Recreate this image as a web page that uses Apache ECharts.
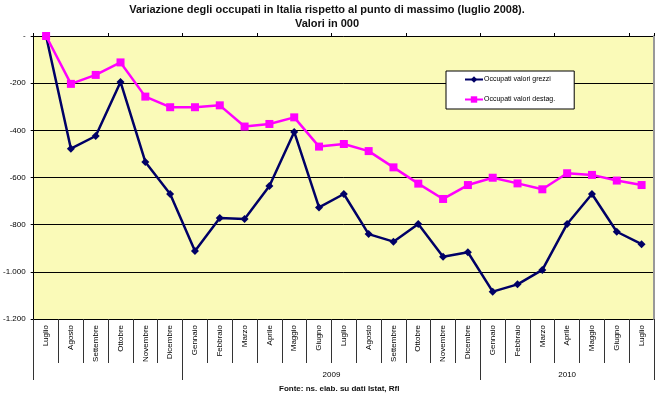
<!DOCTYPE html>
<html>
<head>
<meta charset="utf-8">
<script src="https://cdn.jsdelivr.net/npm/echarts@6/dist/echarts.min.js"></script>
<style>
  html, body { margin: 0; padding: 0; background: #fff; }
  #chart { width: 657px; height: 399px; }
</style>
</head>
<body>
<div id="chart"></div>
<script>
const months = [
  'Luglio', 'Agosto', 'Settembre', 'Ottobre', 'Novembre', 'Dicembre',
  'Gennaio', 'Febbraio', 'Marzo', 'Aprile', 'Maggio', 'Giugno',
  'Luglio', 'Agosto', 'Settembre', 'Ottobre', 'Novembre', 'Dicembre',
  'Gennaio', 'Febbraio', 'Marzo', 'Aprile', 'Maggio', 'Giugno', 'Luglio'
]
// year groups: label, first month index, last month index + 1
const years = [['', 0, 6], ['2009', 6, 18], ['2010', 18, 25]]

const grezzi = [
  0, -478, -424, -195, -534, -670,
  -912, -772, -776, -636, -407, -727,
  -670, -840, -872, -797, -936, -917,
  -1084, -1053, -992, -797, -670, -830, -883
]
const destag = [
  0, -203, -165, -112, -257, -302,
  -302, -294, -384, -373, -345, -469,
  -458, -488, -557, -626, -691, -632,
  -601, -625, -650, -582, -589, -613, -632
]
const seriesNames = ['Occupati valori grezzi', 'Occupati valori destag.']

const yearBounds = [...new Set(years.flatMap((y) => [y[1], y[2]]))]
const yearCenters = years.filter((y) => y[0]).map((y) => (y[1] + y[2]) / 2)
const yearLabel = (v) => (years.find((y) => (y[1] + y[2]) / 2 === v) || [''])[0]

const fmtY = (v) => v === 0 ? '-' : '-' + String(Math.abs(v)).replace(/\B(?=(\d{3})+(?!\d))/g, '.')

const font = 'Liberation Sans, Arial, sans-serif'
const chart = echarts.init(document.getElementById('chart'))
chart.setOption({
  animation: false,
  textStyle: { fontFamily: font },
  title: {
    text: 'Variazione degli occupati in Italia rispetto al punto di massimo (luglio 2008).\nValori in 000',
    left: 327,
    top: 3,
    padding: 0,
    textAlign: 'center',
    textStyle: { fontSize: 11, fontWeight: 'bold', color: '#111', lineHeight: 14, fontFamily: font }
  },
  legend: {
    orient: 'vertical',
    left: 446,
    top: 71,
    data: seriesNames,
    backgroundColor: '#fff',
    borderColor: '#000',
    borderWidth: 1,
    borderRadius: 0,
    padding: [5, 19, 6, 18],
    itemWidth: 18,
    itemHeight: 8,
    itemGap: 13,
    textStyle: { fontSize: 7, color: '#000', fontFamily: font, padding: [0, 0, 0, -4] }
  },
  graphic: [{
    type: 'text',
    left: 279,
    top: 385,
    style: { text: 'Fonte: ns. elab. su dati Istat, Rfl', font: 'bold 8px ' + font, fill: '#111' }
  }],
  grid: {
    left: 30,
    right: 3,
    top: 36,
    bottom: 80,
    show: true,
    backgroundColor: '#FAFAB8',
    borderWidth: 0
  },
  xAxis: [
    {
      type: 'category',
      data: months,
      position: 'top',
      axisLine: { show: false, onZero: false },
      axisTick: { show: true, length: 3, lineStyle: { color: '#000' } },
      axisLabel: { show: false }
    },
    {
      type: 'category',
      data: months,
      position: 'bottom',
      axisLine: { show: false, onZero: false },
      axisTick: { show: true, length: 44, lineStyle: { color: '#333' } },
      axisLabel: { rotate: 90, fontSize: 8, color: '#000', margin: 6, fontFamily: font }
    },
    {
      type: 'value',
      min: 0,
      max: months.length,
      position: 'bottom',
      axisLine: { show: false, onZero: false },
      splitLine: { show: false },
      axisTick: { show: true, length: 61, customValues: yearBounds, lineStyle: { color: '#333' } },
      axisLabel: { customValues: yearCenters, formatter: yearLabel, fontSize: 8, color: '#000', margin: 52, fontFamily: font }
    }
  ],
  yAxis: [
    {
      type: 'value',
      min: -1200,
      max: 0,
      interval: 200,
      axisLine: { show: true, lineStyle: { color: '#000' } },
      axisTick: { show: true, length: 3, lineStyle: { color: '#000' } },
      axisLabel: { formatter: fmtY, fontSize: 8, color: '#000', margin: 8, fontFamily: font },
      splitLine: { lineStyle: { color: '#000', width: 1 } }
    },
    {
      type: 'value',
      min: -1200,
      max: 0,
      position: 'right',
      axisLine: { show: true, lineStyle: { color: '#999', width: 2 } },
      axisTick: { show: false },
      axisLabel: { show: false },
      splitLine: { show: false }
    }
  ],
  series: [
    {
      name: seriesNames[0],
      type: 'line',
      xAxisIndex: 1,
      data: grezzi,
      symbol: 'diamond',
      symbolSize: 8,
      lineStyle: { color: '#000066', width: 2.5 },
      itemStyle: { color: '#000066' },
      z: 2
    },
    {
      name: seriesNames[1],
      type: 'line',
      xAxisIndex: 1,
      data: destag,
      symbol: 'rect',
      symbolSize: 8,
      lineStyle: { color: '#FF00FF', width: 2.5 },
      itemStyle: { color: '#FF00FF' },
      z: 3
    }
  ]
})
</script>
</body>
</html>
